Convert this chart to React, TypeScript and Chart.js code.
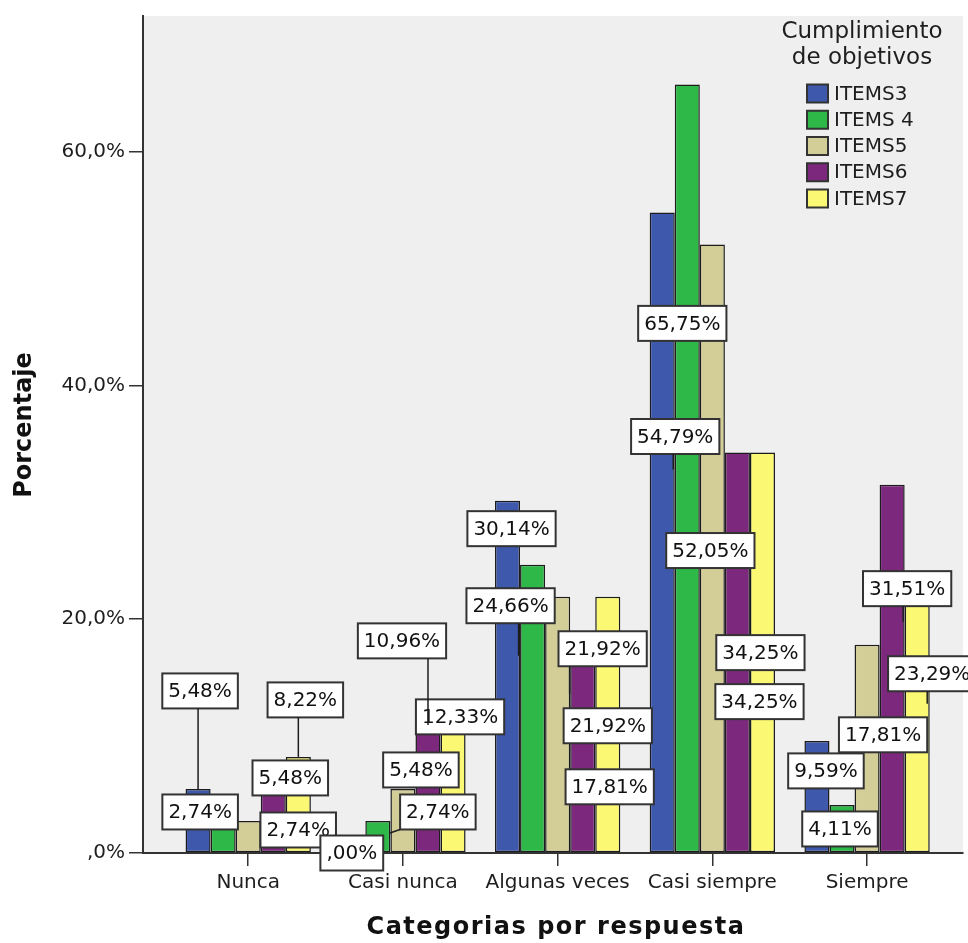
import React, { useEffect, useRef } from 'react';
import { Chart, registerables } from 'chart.js';

Chart.register(...registerables);

// ---- data ----
const CATEGORIES = ['Nunca', 'Casi nunca', 'Algunas veces', 'Casi siempre', 'Siempre'];
const SERIES_NAMES = ['ITEMS3', 'ITEMS 4', 'ITEMS5', 'ITEMS6', 'ITEMS7'];
const ITEMS3 = [5.48, 0, 30.14, 54.79, 9.59];
const ITEMS4 = [2.74, 2.74, 24.66, 65.75, 4.11];
const ITEMS5 = [2.74, 5.48, 21.92, 52.05, 17.81];
const ITEMS6 = [5.48, 10.96, 17.81, 34.25, 31.51];
const ITEMS7 = [8.22, 12.33, 21.92, 34.25, 23.29];
const SERIES = [ITEMS3, ITEMS4, ITEMS5, ITEMS6, ITEMS7];
const Y_TICKS = [0, 20, 40, 60];
const LEGEND_TITLE = ['Cumplimiento', 'de objetivos'];
const X_TITLE = 'Categorias por respuesta';
const Y_TITLE = 'Porcentaje';

// ---- styling ----
const COLORS = ['#3E58AC', '#2EB848', '#D3CE97', '#7C287D', '#FBF873'];
const FONT = '"DejaVu Sans", Verdana, sans-serif';
const INK = '#1e1e1e';
const AXIS = '#333333';
const PLOT_BG = '#efefef';

// Label box centre offsets (px) from the top centre of each bar, per series / category.
const LABEL_BOX: number[][][] = [
  [[2, -98], [-1, 0], [4, 28], [13, 224], [9, 30]],
  [[-23, -9], [60, -9], [-22, 41], [-5, 239], [-2, 24]],
  [[50, 9], [18, -19], [45, 52], [-2, 306], [16, 90]],
  [[17, -11], [-26, -84], [27, 142], [23, 200], [15, 104]],
  [[7, -57], [7, 8], [0, 129], [-3, 249], [15, 93]],
];
// Leader line anchor offsets (px) from the bar top; null = no leader line.
const LABEL_LEAD: (number[] | null)[][] = [
  [[0, 0], null, null, [11, 257], null],
  [null, [12, 12], [-14, 91], null, null],
  [null, null, [12, 97], null, null],
  [null, [0, 0], null, null, [11, 137]],
  [[0, 0], null, null, null, [10, 123]],
];

const fmtValue = (v: number) => {
  const s = v.toFixed(2).replace('.', ',');
  return (s.startsWith('0,') ? s.slice(1) : s) + '%';
};
const fmtTick = (v: number) => (v === 0 ? ',0%' : v.toFixed(1).replace('.', ',') + '%');

const plotBackground = {
  id: 'plotBackground',
  beforeDraw(chart: any) {
    const { ctx, chartArea: a } = chart;
    ctx.save();
    ctx.fillStyle = PLOT_BG;
    ctx.fillRect(a.left, a.top, a.right - a.left, a.bottom - a.top);
    ctx.restore();
  },
};

const valueLabels = {
  id: 'valueLabels',
  afterDraw(chart: any) {
    const { ctx } = chart;
    ctx.save();
    ctx.font = `20px ${FONT}`;
    ctx.textAlign = 'center';
    ctx.textBaseline = 'middle';
    const leaders: { ax: number; ay: number; l: number; r: number; t: number; b: number }[] = [];
    for (let c = 0; c < CATEGORIES.length; c++) {
      for (let s = 0; s < SERIES.length; s++) {
        const el = chart.getDatasetMeta(s).data[c];
        if (!el) continue;
        const text = fmtValue(SERIES[s][c]);
        const [dx, dy] = LABEL_BOX[s][c];
        const cx = el.x + dx;
        const cy = el.y + dy;
        const w = ctx.measureText(text).width + 12;
        const h = 35;
        const l = cx - w / 2, t = cy - h / 2;
        ctx.fillStyle = '#ffffff';
        ctx.fillRect(l, t, w, h);
        ctx.lineWidth = 2;
        ctx.strokeStyle = AXIS;
        ctx.strokeRect(l, t, w, h);
        ctx.fillStyle = '#111111';
        ctx.fillText(text, cx, cy + 1);
        const lead = LABEL_LEAD[s][c];
        if (lead) {
          leaders.push({ ax: el.x + lead[0], ay: el.y + lead[1], l, r: l + w, t, b: t + h });
        }
      }
    }
    ctx.strokeStyle = INK;
    ctx.lineWidth = 1.5;
    for (const d of leaders) {
      const px = Math.min(Math.max(d.ax, d.l), d.r);
      const py = Math.min(Math.max(d.ay, d.t), d.b);
      if (px === d.ax && py === d.ay) continue;
      ctx.beginPath();
      ctx.moveTo(d.ax, d.ay);
      ctx.lineTo(px, py);
      ctx.stroke();
    }
    ctx.restore();
  },
};

const legendAndTitles = {
  id: 'legendAndTitles',
  afterDraw(chart: any) {
    const { ctx, chartArea: a } = chart;
    ctx.save();
    // legend title
    ctx.fillStyle = INK;
    ctx.font = `23px ${FONT}`;
    ctx.textAlign = 'center';
    ctx.textBaseline = 'alphabetic';
    LEGEND_TITLE.forEach((line, i) => ctx.fillText(line, 862, 38 + i * 26));
    // legend entries
    ctx.font = `20px ${FONT}`;
    ctx.textAlign = 'left';
    ctx.textBaseline = 'middle';
    SERIES_NAMES.forEach((name, i) => {
      const cy = 93.5 + i * 26.25;
      ctx.fillStyle = COLORS[i];
      ctx.fillRect(807, cy - 9, 21, 18);
      ctx.lineWidth = 2;
      ctx.strokeStyle = AXIS;
      ctx.strokeRect(807, cy - 9, 21, 18);
      ctx.fillStyle = INK;
      ctx.fillText(name, 834, cy + 1);
    });
    // axis titles
    ctx.fillStyle = '#111111';
    ctx.font = `bold 24px ${FONT}`;
    ctx.textAlign = 'center';
    ctx.textBaseline = 'alphabetic';
    (ctx as any).letterSpacing = '1.5px';
    ctx.fillText(X_TITLE, (a.left + a.right) / 2 + 3, 934);
    (ctx as any).letterSpacing = '0px';
    ctx.translate(31, 425);
    ctx.rotate(-Math.PI / 2);
    ctx.fillText(Y_TITLE, 0, 0);
    ctx.restore();
  },
};

export default function App() {
  const canvasRef = useRef<HTMLCanvasElement>(null);

  useEffect(() => {
    const canvas = canvasRef.current;
    if (!canvas) return;
    const chart = new Chart(canvas, {
      type: 'bar',
      data: {
        datasets: SERIES.map((values, s) => ({
          label: SERIES_NAMES[s],
          data: values.map((v, i) => ({ x: i, y: v })),
          backgroundColor: COLORS[s],
          borderColor: '#1c1c1c',
          borderWidth: 1.5,
          borderSkipped: false,
          categoryPercentage: 0.81,
          barPercentage: 1,
        })),
      },
      options: {
        responsive: false,
        animation: false,
        events: [],
        layout: { padding: { top: 13, right: 5, left: 0, bottom: 0 } },
        plugins: {
          legend: { display: false },
          tooltip: { enabled: false },
          title: { display: false },
        },
        scales: {
          x: {
            type: 'linear',
            min: -0.68,
            max: 4.62,
            offset: false,
            afterBuildTicks: (scale: any) => {
              scale.ticks = CATEGORIES.map((_, i) => ({ value: i }));
            },
            afterFit: (scale: any) => {
              scale.height = 90;
            },
            ticks: {
              autoSkip: false,
              maxRotation: 0,
              padding: 5,
              color: INK,
              font: { family: FONT, size: 20 },
              callback: (v: any) => CATEGORIES[Math.round(Number(v))] ?? '',
            },
            grid: {
              display: true,
              offset: false,
              drawOnChartArea: false,
              drawTicks: true,
              tickLength: 13,
              color: AXIS,
              lineWidth: 1.5,
            },
            border: { display: true, color: AXIS, width: 2, z: 1 },
          },
          y: {
            type: 'linear',
            min: 0,
            max: 71.6,
            afterBuildTicks: (scale: any) => {
              scale.ticks = Y_TICKS.map((v) => ({ value: v }));
            },
            afterFit: (scale: any) => {
              scale.width = 143;
            },
            ticks: {
              padding: 4,
              color: INK,
              font: { family: FONT, size: 20 },
              callback: (v: any) => fmtTick(Number(v)),
            },
            grid: {
              display: true,
              drawOnChartArea: false,
              drawTicks: true,
              tickLength: 14,
              color: AXIS,
              lineWidth: 1.5,
            },
            border: { display: true, color: AXIS, width: 2, z: 1 },
          },
        },
      },
      plugins: [plotBackground, valueLabels, legendAndTitles],
    } as any);
    return () => chart.destroy();
  }, []);

  return (
    <div style={{ position: 'absolute', left: 0, top: 0, width: 968, height: 943, background: '#ffffff' }}>
      <canvas ref={canvasRef} width={968} height={943} />
    </div>
  );
}
